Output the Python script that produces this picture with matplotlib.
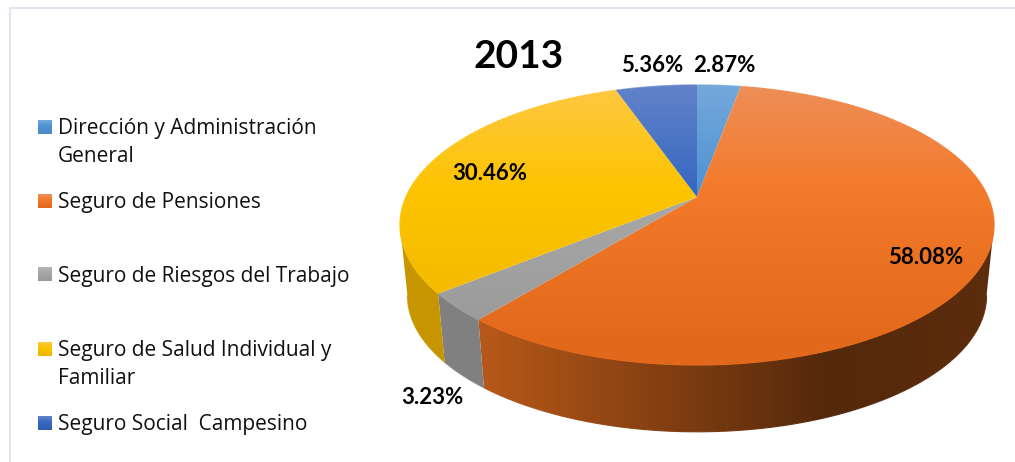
import matplotlib
matplotlib.use('Agg')
import matplotlib.pyplot as plt
import numpy as np
from matplotlib.collections import LineCollection
from matplotlib.colors import to_rgb
from matplotlib.patches import Polygon

year = '2013'
categories = ['Dirección y Administración\nGeneral', 'Seguro de Pensiones',
              'Seguro de Riesgos del Trabajo', 'Seguro de Salud Individual y\nFamiliar',
              'Seguro Social  Campesino']
shares = [2.87, 58.08, 3.23, 30.46, 5.36]

# colours of each slice: top, middle and bottom of the gradient
top_colors = ['#74a8db', '#ee8e58', '#b5b5b5', '#fdc844', '#6283ca']
mid_colors = ['#4f93d2', '#f37a2a', '#a8a8a8', '#fdc400', '#3768c0']
low_colors = ['#4a8ac8', '#e2681b', '#999999', '#efb700', '#2f5eb0']
wall_colors = ['#5b9bd5', '#e8701f', '#a5a5a5', '#ffc000', '#4472c4']

legend_y = [127, 201, 274, 349, 423]
legend_text_y = [142.5, 202.5, 276.5, 364.5, 424.5]
label_pos = [(724, 66), (926, 258), (432, 397), (490, 174), (652, 66)]

CX, CY = 697, 197
A, B, K = 291, 134.4, 0.2
WALL_SCALE, WALL_DROP = 0.975, 71
GRAD_Y = [85, 190, 345]
SHADE_X = [400, 490, 650, 830, 995]
SHADE = [0.78, 0.78, 0.58, 0.36, 0.40]


def project(theta, wall=False):
    u, v = np.sin(theta), -np.cos(theta)
    den = 1 - K * v
    s, d = (WALL_SCALE, WALL_DROP) if wall else (1, 0)
    return CX + s * A * u / den, CY + s * B * v / den + d


def top_color(y, i):
    stops = np.array([to_rgb(top_colors[i]), to_rgb(mid_colors[i]), to_rgb(low_colors[i])])
    return np.stack([np.interp(y, GRAD_Y, stops[:, c]) for c in range(3)], axis=-1)


def wall_color(x, i):
    return np.interp(x, SHADE_X, SHADE)[..., None] * np.array(to_rgb(wall_colors[i]))


def rim(ax, x, y, colors, lw, z):
    pts = np.column_stack([x, y])
    segs = np.stack([pts[:-1], pts[1:]], axis=1)
    ax.add_collection(LineCollection(segs, colors=colors, linewidths=lw, zorder=z))


fig = plt.figure(figsize=(10.15, 4.62), dpi=100)
ax = fig.add_axes([0, 0, 1, 1])

# frame of the original sheet
ax.plot([10.5, 10.5, 1015], [462, 7.5, 7.5], color='#e0e6ef', lw=1.5, zorder=1)

edges = np.cumsum([0] + shares) / sum(shares) * 2 * np.pi
rows = np.arange(0, 462)
cols = np.arange(0, 1015)

# side wall, only the part of the rim that faces the viewer (v > K)
side = np.arccos(-K)
for i in range(len(shares)):
    t0, t1 = max(edges[i], side), min(edges[i + 1], 2 * np.pi - side)
    if t1 <= t0:
        continue
    th = np.linspace(t0, t1, 200)
    xt, yt = project(th)
    xb, yb = project(th, wall=True)
    poly = Polygon(np.column_stack([np.r_[xt, xb[::-1]], np.r_[yt, yb[::-1]]]),
                   closed=True, transform=ax.transData)
    im = ax.imshow(wall_color(cols + 0.5, i)[None, :, :], extent=(0, 1015, 462, 0),
                   aspect='auto', interpolation='bilinear', zorder=2)
    im.set_clip_path(poly)
    rim(ax, xb, yb, wall_color((xb[:-1] + xb[1:]) / 2, i), 0.8, 3)

# top surface
for i in range(len(shares)):
    th = np.linspace(edges[i], edges[i + 1], 300)
    x, y = project(th)
    poly = Polygon(np.column_stack([np.r_[CX, x], np.r_[CY, y]]), closed=True, transform=ax.transData)
    im = ax.imshow(top_color(rows + 0.5, i)[:, None, :], extent=(0, 1015, 462, 0),
                   aspect='auto', interpolation='bilinear', zorder=4)
    im.set_clip_path(poly)
    rim(ax, x, y, top_color((y[:-1] + y[1:]) / 2, i), 0.9, 5)

# labels
for i, share in enumerate(shares):
    ax.text(label_pos[i][0], label_pos[i][1], f'{share:.2f}%', family='Lato', weight='bold',
            fontsize=16, ha='center', va='center', color='black', zorder=6)
ax.text(519, 56, year, family='Lato', weight='bold', fontsize=28, ha='center', va='center',
        color='black', zorder=6)

# legend
for i, name in enumerate(categories):
    ys = np.linspace(GRAD_Y[0], GRAD_Y[2], 20)
    ax.imshow(top_color(ys, i)[:, None, :], extent=(38, 52, legend_y[i] + 7, legend_y[i] - 7),
              aspect='auto', interpolation='bilinear', zorder=3)
    ax.text(58, legend_text_y[i], name, family='Open Sans', fontsize=15, color='#111111',
            ha='left', va='center', linespacing=1.42, zorder=6)

ax.set_xlim(0, 1015)
ax.set_ylim(462, 0)
ax.axis('off')
fig.savefig('out.png', dpi=100)
